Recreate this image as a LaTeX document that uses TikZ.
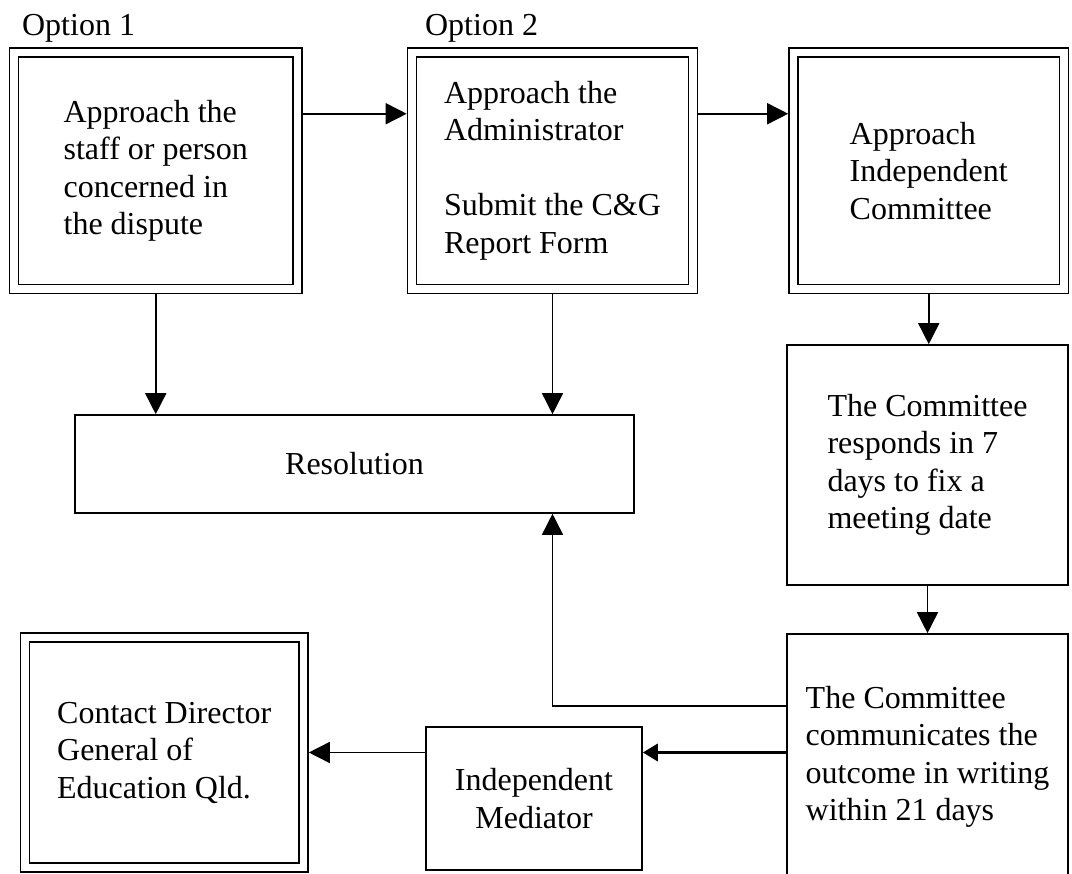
\documentclass[tikz,border=0pt]{standalone}
\usepackage{fontspec}
\setmainfont{Liberation Serif}
\usetikzlibrary{arrows.meta}

\tikzset{
  dbox/.style={draw, double, double distance=7.4pt, outer sep=5.3pt, inner sep=0pt, align=left},
  sbox/.style={draw, inner sep=0pt, align=left},
  thickarr/.style={line width=3.4pt, -{Triangle[length=15pt,width=17pt]}},
}

\begin{document}
\begin{tikzpicture}[x=1pt, y=-1pt, line width=1.6pt,
  >={Triangle[length=21pt,width=21pt]},
  font=\fontsize{32}{37.5}\selectfont]
\useasboundingbox (0,0) rectangle (1072,874);

% 上面三个框
\node[anchor=base west] (lbl1) at (18,36) {Option 1};
\node[anchor=base west] (lbl2) at (421,36) {Option 2};
\node[dbox, minimum width=283.5pt, minimum height=236.5pt] (opt1) at (155.75,170.75)
  {Approach the\\staff or person\\concerned in\\the dispute};
\node[dbox, minimum width=281pt, minimum height=236.5pt] (opt2) at (552.5,170.75)
  {Approach the\\Administrator\\[37.5pt]Submit the C\&G\\Report Form};
\node[dbox, minimum width=270.5pt, minimum height=236.5pt] (indep) at (928.75,170.75)
  {Approach\\Independent\\Committee};

% 中间
\node[sbox, minimum width=559pt, minimum height=98pt] (res) at (354.5,464) {Resolution};
\node[sbox, minimum width=281pt, minimum height=240pt] (rsp) at (927.5,465)
  {The Committee\\responds in 7\\days to fix a\\meeting date};

% 下面
\node[sbox, minimum width=281pt, minimum height=246pt] (comm) at (927.5,757)
  {The Committee\\communicates the\\outcome in writing\\within 21 days};
\node[sbox, align=center, minimum width=216pt, minimum height=143pt] (med) at (534,798.5)
  {Independent\\Mediator};
\node[dbox, minimum width=278.5pt, minimum height=230pt] (dir) at (164.25,752.5)
  {Contact Director\\General of\\Education Qld.};

% 箭头
\draw[->] ([yshift=57pt]opt1.east) -- ([yshift=57pt]opt2.west);
\draw[->] ([yshift=57pt]opt2.east) -- ([yshift=57pt]indep.west);
\draw[->] (opt1.south) -- (opt1.south |- res.north);
\draw[->] (opt2.south) -- (opt2.south |- res.north);
\draw[->] (indep.south) -- (indep.south |- rsp.north);
\draw[->] (rsp.south) -- (rsp.south |- comm.north);
\draw[->] ([yshift=51pt]comm.west) -| (opt2.south |- res.south);
\draw[thickarr] (comm.west |- dir.east) -- (med.east |- dir.east);
\draw[->] (med.west |- dir.east) -- (dir.east);
\end{tikzpicture}
\end{document}
